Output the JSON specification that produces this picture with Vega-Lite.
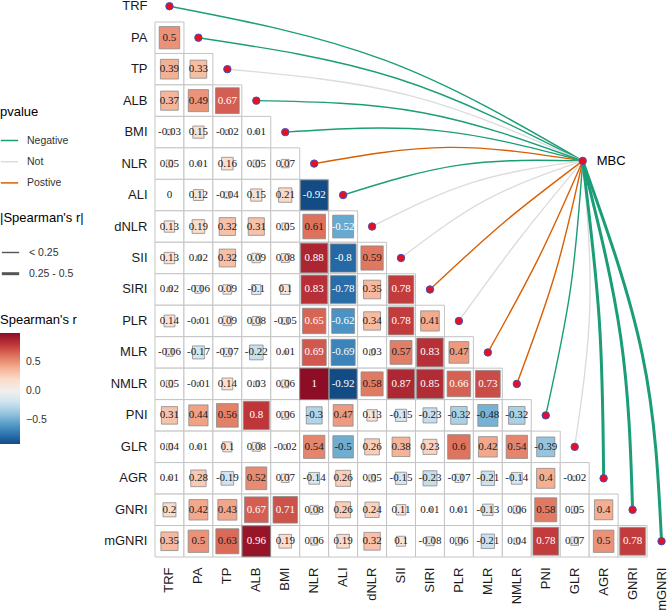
{
  "$schema": "https://vega.github.io/schema/vega-lite/v6.json",
  "width": 514,
  "height": 557,
  "autosize": "none",
  "padding": {"left": 155, "top": 0, "right": 0, "bottom": 58},
  "background": "white",
  "config": {
    "view": {"stroke": null},
    "font": "Liberation Sans",
    "axis": {"domain": false, "ticks": false, "grid": false, "labelFont": "Liberation Sans", "labelFontSize": 13, "labelColor": "#1a1a1a"},
    "legend": {"titleFont": "Liberation Sans", "titleFontSize": 13, "titleFontWeight": "normal", "titleColor": "#000000", "labelFont": "Liberation Sans", "labelFontSize": 10.5, "labelColor": "#333333"}
  },
  "datasets": {
    "cor": [
      {"row":"PA","col":"TRF","r":0.5},
      {"row":"TP","col":"TRF","r":0.39},{"row":"TP","col":"PA","r":0.33},
      {"row":"ALB","col":"TRF","r":0.37},{"row":"ALB","col":"PA","r":0.49},{"row":"ALB","col":"TP","r":0.67},
      {"row":"BMI","col":"TRF","r":-0.03},{"row":"BMI","col":"PA","r":0.15},{"row":"BMI","col":"TP","r":-0.02},{"row":"BMI","col":"ALB","r":0.01},
      {"row":"NLR","col":"TRF","r":0.05},{"row":"NLR","col":"PA","r":0.01},{"row":"NLR","col":"TP","r":0.16},{"row":"NLR","col":"ALB","r":0.05},{"row":"NLR","col":"BMI","r":0.07},
      {"row":"ALI","col":"TRF","r":0},{"row":"ALI","col":"PA","r":0.12},{"row":"ALI","col":"TP","r":-0.04},{"row":"ALI","col":"ALB","r":0.15},{"row":"ALI","col":"BMI","r":0.21},{"row":"ALI","col":"NLR","r":-0.92},
      {"row":"dNLR","col":"TRF","r":0.13},{"row":"dNLR","col":"PA","r":0.19},{"row":"dNLR","col":"TP","r":0.32},{"row":"dNLR","col":"ALB","r":0.31},{"row":"dNLR","col":"BMI","r":0.05},{"row":"dNLR","col":"NLR","r":0.61},{"row":"dNLR","col":"ALI","r":-0.52},
      {"row":"SII","col":"TRF","r":0.13},{"row":"SII","col":"PA","r":0.02},{"row":"SII","col":"TP","r":0.32},{"row":"SII","col":"ALB","r":0.09},{"row":"SII","col":"BMI","r":0.08},{"row":"SII","col":"NLR","r":0.88},{"row":"SII","col":"ALI","r":-0.8},{"row":"SII","col":"dNLR","r":0.59},
      {"row":"SIRI","col":"TRF","r":0.02},{"row":"SIRI","col":"PA","r":-0.06},{"row":"SIRI","col":"TP","r":0.09},{"row":"SIRI","col":"ALB","r":-0.1},{"row":"SIRI","col":"BMI","r":0.1},{"row":"SIRI","col":"NLR","r":0.83},{"row":"SIRI","col":"ALI","r":-0.78},{"row":"SIRI","col":"dNLR","r":0.35},{"row":"SIRI","col":"SII","r":0.78},
      {"row":"PLR","col":"TRF","r":0.14},{"row":"PLR","col":"PA","r":-0.01},{"row":"PLR","col":"TP","r":0.09},{"row":"PLR","col":"ALB","r":0.08},{"row":"PLR","col":"BMI","r":-0.05},{"row":"PLR","col":"NLR","r":0.65},{"row":"PLR","col":"ALI","r":-0.62},{"row":"PLR","col":"dNLR","r":0.34},{"row":"PLR","col":"SII","r":0.78},{"row":"PLR","col":"SIRI","r":0.41},
      {"row":"MLR","col":"TRF","r":-0.06},{"row":"MLR","col":"PA","r":-0.17},{"row":"MLR","col":"TP","r":-0.07},{"row":"MLR","col":"ALB","r":-0.22},{"row":"MLR","col":"BMI","r":0.01},{"row":"MLR","col":"NLR","r":0.69},{"row":"MLR","col":"ALI","r":-0.69},{"row":"MLR","col":"dNLR","r":0.03},{"row":"MLR","col":"SII","r":0.57},{"row":"MLR","col":"SIRI","r":0.83},{"row":"MLR","col":"PLR","r":0.47},
      {"row":"NMLR","col":"TRF","r":0.05},{"row":"NMLR","col":"PA","r":-0.01},{"row":"NMLR","col":"TP","r":0.14},{"row":"NMLR","col":"ALB","r":0.03},{"row":"NMLR","col":"BMI","r":0.06},{"row":"NMLR","col":"NLR","r":1},{"row":"NMLR","col":"ALI","r":-0.92},{"row":"NMLR","col":"dNLR","r":0.58},{"row":"NMLR","col":"SII","r":0.87},{"row":"NMLR","col":"SIRI","r":0.85},{"row":"NMLR","col":"PLR","r":0.66},{"row":"NMLR","col":"MLR","r":0.73},
      {"row":"PNI","col":"TRF","r":0.31},{"row":"PNI","col":"PA","r":0.44},{"row":"PNI","col":"TP","r":0.56},{"row":"PNI","col":"ALB","r":0.8},{"row":"PNI","col":"BMI","r":0.06},{"row":"PNI","col":"NLR","r":-0.3},{"row":"PNI","col":"ALI","r":0.47},{"row":"PNI","col":"dNLR","r":0.13},{"row":"PNI","col":"SII","r":-0.15},{"row":"PNI","col":"SIRI","r":-0.23},{"row":"PNI","col":"PLR","r":-0.32},{"row":"PNI","col":"MLR","r":-0.48},{"row":"PNI","col":"NMLR","r":-0.32},
      {"row":"GLR","col":"TRF","r":0.04},{"row":"GLR","col":"PA","r":0.01},{"row":"GLR","col":"TP","r":0.1},{"row":"GLR","col":"ALB","r":0.08},{"row":"GLR","col":"BMI","r":-0.02},{"row":"GLR","col":"NLR","r":0.54},{"row":"GLR","col":"ALI","r":-0.5},{"row":"GLR","col":"dNLR","r":0.26},{"row":"GLR","col":"SII","r":0.38},{"row":"GLR","col":"SIRI","r":0.23},{"row":"GLR","col":"PLR","r":0.6},{"row":"GLR","col":"MLR","r":0.42},{"row":"GLR","col":"NMLR","r":0.54},{"row":"GLR","col":"PNI","r":-0.39},
      {"row":"AGR","col":"TRF","r":0.01},{"row":"AGR","col":"PA","r":0.28},{"row":"AGR","col":"TP","r":-0.19},{"row":"AGR","col":"ALB","r":0.52},{"row":"AGR","col":"BMI","r":0.07},{"row":"AGR","col":"NLR","r":-0.14},{"row":"AGR","col":"ALI","r":0.26},{"row":"AGR","col":"dNLR","r":0.05},{"row":"AGR","col":"SII","r":-0.15},{"row":"AGR","col":"SIRI","r":-0.23},{"row":"AGR","col":"PLR","r":-0.07},{"row":"AGR","col":"MLR","r":-0.21},{"row":"AGR","col":"NMLR","r":-0.14},{"row":"AGR","col":"PNI","r":0.4},{"row":"AGR","col":"GLR","r":-0.02},
      {"row":"GNRI","col":"TRF","r":0.2},{"row":"GNRI","col":"PA","r":0.42},{"row":"GNRI","col":"TP","r":0.43},{"row":"GNRI","col":"ALB","r":0.67},{"row":"GNRI","col":"BMI","r":0.71},{"row":"GNRI","col":"NLR","r":0.08},{"row":"GNRI","col":"ALI","r":0.26},{"row":"GNRI","col":"dNLR","r":0.24},{"row":"GNRI","col":"SII","r":0.11},{"row":"GNRI","col":"SIRI","r":0.01},{"row":"GNRI","col":"PLR","r":0.01},{"row":"GNRI","col":"MLR","r":-0.13},{"row":"GNRI","col":"NMLR","r":0.06},{"row":"GNRI","col":"PNI","r":0.58},{"row":"GNRI","col":"GLR","r":0.05},{"row":"GNRI","col":"AGR","r":0.4},
      {"row":"mGNRI","col":"TRF","r":0.35},{"row":"mGNRI","col":"PA","r":0.5},{"row":"mGNRI","col":"TP","r":0.63},{"row":"mGNRI","col":"ALB","r":0.96},{"row":"mGNRI","col":"BMI","r":0.19},{"row":"mGNRI","col":"NLR","r":0.06},{"row":"mGNRI","col":"ALI","r":0.19},{"row":"mGNRI","col":"dNLR","r":0.32},{"row":"mGNRI","col":"SII","r":0.1},{"row":"mGNRI","col":"SIRI","r":-0.08},{"row":"mGNRI","col":"PLR","r":0.06},{"row":"mGNRI","col":"MLR","r":-0.21},{"row":"mGNRI","col":"NMLR","r":0.04},{"row":"mGNRI","col":"PNI","r":0.78},{"row":"mGNRI","col":"GLR","r":0.07},{"row":"mGNRI","col":"AGR","r":0.5},{"row":"mGNRI","col":"GNRI","r":0.78}
    ],
    "links": [
      {"var":"TRF","pvalue":"Negative","rsize":"< 0.25","seq":0,"x":14.777,"y":5.414},{"var":"TRF","pvalue":"Negative","rsize":"< 0.25","seq":1,"x":7.94,"y":2.215},{"var":"TRF","pvalue":"Negative","rsize":"< 0.25","seq":2,"x":0.5,"y":0.5},
      {"var":"PA","pvalue":"Negative","rsize":"< 0.25","seq":0,"x":14.777,"y":5.414},{"var":"PA","pvalue":"Negative","rsize":"< 0.25","seq":1,"x":8.368,"y":2.796},{"var":"PA","pvalue":"Negative","rsize":"< 0.25","seq":2,"x":1.5,"y":1.5},
      {"var":"TP","pvalue":"Not","rsize":"< 0.25","seq":0,"x":14.777,"y":5.414},{"var":"TP","pvalue":"Not","rsize":"< 0.25","seq":1,"x":8.81,"y":3.34},{"var":"TP","pvalue":"Not","rsize":"< 0.25","seq":2,"x":2.5,"y":2.5},
      {"var":"ALB","pvalue":"Negative","rsize":"< 0.25","seq":0,"x":14.777,"y":5.414},{"var":"ALB","pvalue":"Negative","rsize":"< 0.25","seq":1,"x":9.252,"y":3.883},{"var":"ALB","pvalue":"Negative","rsize":"< 0.25","seq":2,"x":3.5,"y":3.5},
      {"var":"BMI","pvalue":"Negative","rsize":"< 0.25","seq":0,"x":14.777,"y":5.414},{"var":"BMI","pvalue":"Negative","rsize":"< 0.25","seq":1,"x":9.691,"y":4.445},{"var":"BMI","pvalue":"Negative","rsize":"< 0.25","seq":2,"x":4.5,"y":4.5},
      {"var":"NLR","pvalue":"Postive","rsize":"< 0.25","seq":0,"x":14.777,"y":5.414},{"var":"NLR","pvalue":"Postive","rsize":"< 0.25","seq":1,"x":10.137,"y":4.985},{"var":"NLR","pvalue":"Postive","rsize":"< 0.25","seq":2,"x":5.5,"y":5.5},
      {"var":"ALI","pvalue":"Negative","rsize":"< 0.25","seq":0,"x":14.777,"y":5.414},{"var":"ALI","pvalue":"Negative","rsize":"< 0.25","seq":1,"x":10.565,"y":5.541},{"var":"ALI","pvalue":"Negative","rsize":"< 0.25","seq":2,"x":6.5,"y":6.5},
      {"var":"dNLR","pvalue":"Not","rsize":"< 0.25","seq":0,"x":14.777,"y":5.414},{"var":"dNLR","pvalue":"Not","rsize":"< 0.25","seq":1,"x":11.011,"y":6.09},{"var":"dNLR","pvalue":"Not","rsize":"< 0.25","seq":2,"x":7.5,"y":7.5},
      {"var":"SII","pvalue":"Not","rsize":"< 0.25","seq":0,"x":14.777,"y":5.414},{"var":"SII","pvalue":"Not","rsize":"< 0.25","seq":1,"x":11.457,"y":6.646},{"var":"SII","pvalue":"Not","rsize":"< 0.25","seq":2,"x":8.5,"y":8.5},
      {"var":"SIRI","pvalue":"Postive","rsize":"< 0.25","seq":0,"x":14.777,"y":5.414},{"var":"SIRI","pvalue":"Postive","rsize":"< 0.25","seq":1,"x":12.054,"y":7.37},{"var":"SIRI","pvalue":"Postive","rsize":"< 0.25","seq":2,"x":9.5,"y":9.5},
      {"var":"PLR","pvalue":"Not","rsize":"< 0.25","seq":0,"x":14.777,"y":5.414},{"var":"PLR","pvalue":"Not","rsize":"< 0.25","seq":1,"x":12.569,"y":7.913},{"var":"PLR","pvalue":"Not","rsize":"< 0.25","seq":2,"x":10.5,"y":10.5},
      {"var":"MLR","pvalue":"Postive","rsize":"< 0.25","seq":0,"x":14.777,"y":5.414},{"var":"MLR","pvalue":"Postive","rsize":"< 0.25","seq":1,"x":13.246,"y":8.51},{"var":"MLR","pvalue":"Postive","rsize":"< 0.25","seq":2,"x":11.5,"y":11.5},
      {"var":"NMLR","pvalue":"Postive","rsize":"< 0.25","seq":0,"x":14.777,"y":5.414},{"var":"NMLR","pvalue":"Postive","rsize":"< 0.25","seq":1,"x":13.82,"y":9.009},{"var":"NMLR","pvalue":"Postive","rsize":"< 0.25","seq":2,"x":12.5,"y":12.5},
      {"var":"PNI","pvalue":"Negative","rsize":"< 0.25","seq":0,"x":14.777,"y":5.414},{"var":"PNI","pvalue":"Negative","rsize":"< 0.25","seq":1,"x":14.352,"y":9.495},{"var":"PNI","pvalue":"Negative","rsize":"< 0.25","seq":2,"x":13.5,"y":13.5},
      {"var":"GLR","pvalue":"Not","rsize":"< 0.25","seq":0,"x":14.777,"y":5.414},{"var":"GLR","pvalue":"Not","rsize":"< 0.25","seq":1,"x":15.026,"y":9.987},{"var":"GLR","pvalue":"Not","rsize":"< 0.25","seq":2,"x":14.5,"y":14.5},
      {"var":"AGR","pvalue":"Negative","rsize":"0.25 - 0.5","seq":0,"x":14.777,"y":5.414},{"var":"AGR","pvalue":"Negative","rsize":"0.25 - 0.5","seq":1,"x":15.35,"y":10.479},{"var":"AGR","pvalue":"Negative","rsize":"0.25 - 0.5","seq":2,"x":15.5,"y":15.5},
      {"var":"GNRI","pvalue":"Negative","rsize":"0.25 - 0.5","seq":0,"x":14.777,"y":5.414},{"var":"GNRI","pvalue":"Negative","rsize":"0.25 - 0.5","seq":1,"x":16.093,"y":11.035},{"var":"GNRI","pvalue":"Negative","rsize":"0.25 - 0.5","seq":2,"x":16.5,"y":16.5},
      {"var":"mGNRI","pvalue":"Negative","rsize":"0.25 - 0.5","seq":0,"x":14.777,"y":5.414},{"var":"mGNRI","pvalue":"Negative","rsize":"0.25 - 0.5","seq":1,"x":16.84,"y":11.585},{"var":"mGNRI","pvalue":"Negative","rsize":"0.25 - 0.5","seq":2,"x":17.5,"y":17.5}
    ],
    "mbc": [{"name":"MBC","x":14.777,"y":5.414}]
  },
  "layer": [
    {
      "layer": [
        {
          "data": {"name": "cor"},
          "mark": {"type": "rect", "fill": "white", "stroke": "#c4c4c4", "strokeWidth": 1},
          "encoding": {
            "x": {"field": "col", "type": "nominal", "scale": {"domain": ["TRF","PA","TP","ALB","BMI","NLR","ALI","dNLR","SII","SIRI","PLR","MLR","NMLR","PNI","GLR","AGR","GNRI","mGNRI"], "range": [0, 521], "paddingInner": 0, "paddingOuter": 0}, "axis": {"orient": "bottom", "labelAngle": 270, "labelPadding": 10, "title": null}},
            "y": {"field": "row", "type": "nominal", "scale": {"domain": ["TRF","PA","TP","ALB","BMI","NLR","ALI","dNLR","SII","SIRI","PLR","MLR","NMLR","PNI","GLR","AGR","GNRI","mGNRI"], "range": [-9.5, 557], "paddingInner": 0, "paddingOuter": 0}, "axis": {"labelPadding": 8, "title": null}}
          }
        },
        {
          "data": {"name": "cor"},
          "mark": {"type": "point", "filled": true, "shape": "M-1,-1.087H1V1.087H-1Z", "stroke": "#8a8a8a", "strokeWidth": 0.8, "opacity": 1},
          "encoding": {
            "x": {"field": "col", "type": "nominal"},
            "y": {"field": "row", "type": "nominal"},
            "size": {"field": "r", "type": "quantitative", "scale": {"domain": [-1, 0, 1], "range": [841, 0, 841]}, "legend": null},
            "fill": {"field": "r", "type": "quantitative", "scale": {"scheme": "redblue", "reverse": true, "domain": [-0.92, 1], "domainMid": 0}, "legend": {"title": "Spearman's r", "orient": "none", "legendX": -155, "legendY": 314, "direction": "vertical", "gradientLength": 111, "gradientThickness": 20, "values": [-0.5, 0, 0.5], "format": ".1f", "titlePadding": 6, "labelOffset": 6, "gradientStrokeWidth": 0}}
          }
        },
        {
          "data": {"name": "cor"},
          "mark": {"type": "text", "font": "Liberation Serif", "fontSize": 11, "baseline": "middle", "align": "center"},
          "encoding": {
            "x": {"field": "col", "type": "nominal"},
            "y": {"field": "row", "type": "nominal"},
            "text": {"field": "r", "type": "nominal"},
            "color": {"condition": {"test": "datum.r >= 0.65 || datum.r <= -0.52", "value": "white"}, "value": "#1a1a1a"}
          }
        }
      ]
    },
    {
      "layer": [
        {
          "data": {"name": "links"},
          "mark": {"type": "line", "interpolate": "natural"},
          "encoding": {
            "x": {"field": "x", "type": "quantitative", "scale": {"domain": [0, 18], "range": [0, 521], "nice": false, "zero": false}, "axis": null},
            "y": {"field": "y", "type": "quantitative", "scale": {"domain": [0, 18], "range": [-9.5, 557], "nice": false, "zero": false}, "axis": null},
            "order": {"field": "seq", "type": "quantitative"},
            "detail": {"field": "var", "type": "nominal"},
            "color": {"field": "pvalue", "type": "nominal", "scale": {"domain": ["Negative", "Not", "Postive"], "range": ["#1b9e77", "#dcdcdc", "#d95f02"]}, "legend": {"title": "pvalue", "orient": "none", "legendX": -155, "legendY": 106, "symbolType": "stroke", "symbolSize": 300, "symbolStrokeWidth": 1.5, "rowPadding": 6.2, "titlePadding": 12, "labelOffset": 8}},
            "strokeWidth": {"field": "rsize", "type": "ordinal", "scale": {"domain": ["< 0.25", "0.25 - 0.5"], "range": [1.4, 3]}, "legend": {"title": "|Spearman's r|", "orient": "none", "legendX": -155, "legendY": 212, "symbolType": "stroke", "symbolSize": 300, "symbolStrokeColor": "#555555", "rowPadding": 5.2, "titlePadding": 18, "labelOffset": 8}}
          }
        },
        {
          "data": {"name": "links"},
          "transform": [{"filter": "datum.seq == 2"}],
          "mark": {"type": "point", "filled": true, "fill": "#e8101e", "stroke": "#4050c0", "strokeWidth": 1, "size": 55, "opacity": 1},
          "encoding": {
            "x": {"field": "x", "type": "quantitative"},
            "y": {"field": "y", "type": "quantitative"}
          }
        },
        {
          "data": {"name": "mbc"},
          "mark": {"type": "point", "filled": true, "fill": "#e8101e", "stroke": "#4050c0", "strokeWidth": 1, "size": 55, "opacity": 1},
          "encoding": {
            "x": {"field": "x", "type": "quantitative"},
            "y": {"field": "y", "type": "quantitative"}
          }
        },
        {
          "data": {"name": "mbc"},
          "mark": {"type": "text", "align": "left", "baseline": "middle", "dx": 14, "font": "Liberation Sans", "fontSize": 13, "color": "#000000"},
          "encoding": {
            "x": {"field": "x", "type": "quantitative"},
            "y": {"field": "y", "type": "quantitative"},
            "text": {"field": "name", "type": "nominal"}
          }
        }
      ]
    }
  ],
  "resolve": {"scale": {"x": "independent", "y": "independent"}}
}
